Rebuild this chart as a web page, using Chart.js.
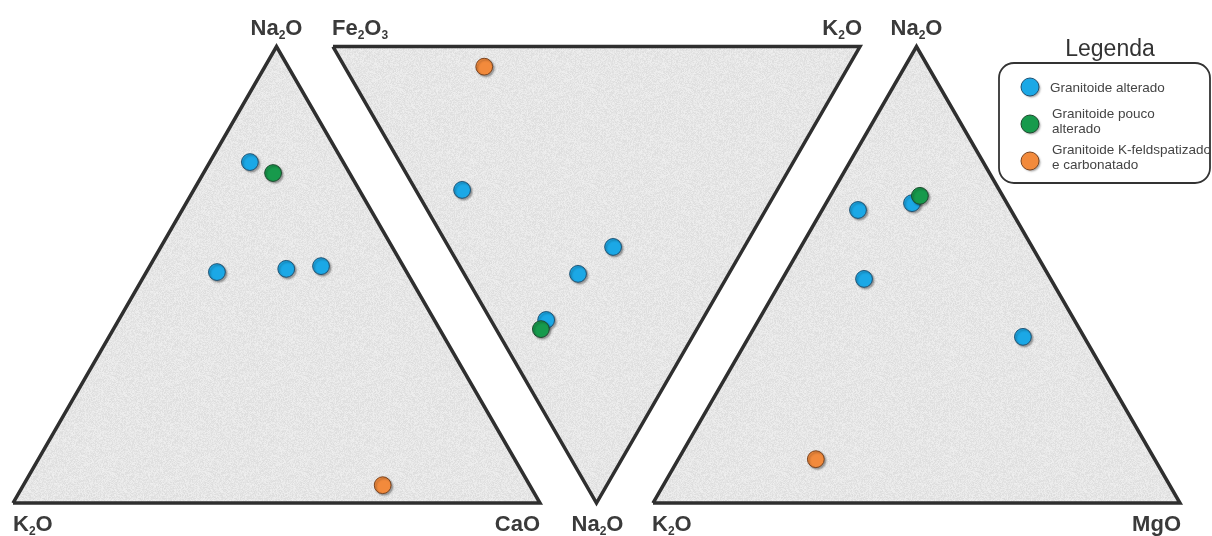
<!DOCTYPE html>
<html>
<head>
<meta charset="utf-8">
<title>Diagramas ternários</title>
<script src="https://cdn.jsdelivr.net/npm/chart.js@4.4.1/dist/chart.umd.min.js"></script>
<style>
  html, body { margin: 0; padding: 0; background: #fff; }
  #wrap { width: 1212px; height: 536px; position: relative; }
</style>
</head>
<body>
<div id="wrap"><canvas id="ternary"></canvas></div>
<script>
// ---- data (wt% normalised to 100 within each diagram) ----

const groups = ["Granitoide alterado", "Granitoide pouco alterado", "Granitoide K-feldspatizado e carbonatado"];
const groupLegendLines = [["Granitoide alterado"], ["Granitoide pouco", "alterado"], ["Granitoide K-feldspatizado", "e carbonatado"]];

// diagram 1: [Na2O, K2O, CaO]  (top, left, right)
const nkcLabels = ["Na2O", "K2O", "CaO"];
const nkcAlterado = [[74.7, 17.7, 7.6], [50.6, 36.0, 13.4], [51.3, 22.5, 26.2], [51.9, 15.6, 32.5]];
const nkcPouco = [[72.3, 14.5, 13.2]];
const nkcKfeld = [[3.9, 27.9, 68.2]];

// diagram 2 (inverted): [Fe2O3, K2O, Na2O]  (top-left, top-right, bottom)
const fknLabels = ["Fe2O3", "K2O", "Na2O"];
const fknAlterado = [[59.8, 8.8, 31.4], [24.9, 31.2, 43.9], [28.6, 21.6, 49.8], [29.6, 10.5, 59.9]];
const fknPouco = [[29.6, 8.5, 61.9]];
const fknKfeld = [[69.1, 26.5, 4.4]];

// diagram 3: [Na2O, K2O, MgO]  (top, left, right)
const nkmLabels = ["Na2O", "K2O", "MgO"];
const nkmAlterado = [[64.2, 29.0, 6.8], [65.7, 18.0, 16.3], [49.1, 35.4, 15.5], [36.4, 11.6, 52.0]];
const nkmPouco = [[67.3, 15.7, 17.0]];
const nkmKfeld = [[9.6, 64.3, 26.1]];

const groupColors = ["#1ba8e6", "#179a4c", "#f28a3c"];
const groupBorders = ["#1f5273", "#1d4a2e", "#7a4420"];

// ---- geometry (unit side triangles) ----
const H = Math.sqrt(3) / 2;
const OFF1 = 0, OFF2 = 0.6072, OFF3 = 1.2144;

function upright(off, c) {
  return { x: off + (c[2] + c[0] / 2) / 100, y: c[0] / 100 * H };
}
function inverted(off, c) {
  return { x: off + (c[1] + c[2] / 2) / 100, y: (1 - c[2] / 100) * H };
}

const tri1 = [upright(OFF1, [0, 100, 0]), upright(OFF1, [100, 0, 0]), upright(OFF1, [0, 0, 100])];
const tri2 = [inverted(OFF2, [100, 0, 0]), inverted(OFF2, [0, 100, 0]), inverted(OFF2, [0, 0, 100])];
const tri3 = [upright(OFF3, [0, 100, 0]), upright(OFF3, [100, 0, 0]), upright(OFF3, [0, 0, 100])];

// grainy paper fill for the triangles
function grainPattern() {
  const c = document.createElement("canvas");
  c.width = 96; c.height = 96;
  const g = c.getContext("2d");
  const img = g.createImageData(96, 96);
  for (let y = 0; y < 96; y++) {
    for (let x = 0; x < 96; x++) {
      let h = Math.imul(x, 374761393) + Math.imul(y, 668265263);
      h = Math.imul(h ^ (h >>> 13), 1274126177);
      h = (h ^ (h >>> 16)) >>> 0;
      const v = 229 + ((h & 255) / 255 - 0.45) * 18;
      const i = (y * 96 + x) * 4;
      img.data[i] = img.data[i + 1] = img.data[i + 2] = v;
      img.data[i + 3] = 255;
    }
  }
  g.putImageData(img, 0, 0);
  return g.createPattern(c, "repeat");
}
const grain = grainPattern();

function triangleSet(pts) {
  return {
    type: "line",
    data: [pts[0], pts[1], pts[2], pts[0]],
    borderColor: "#2f2f2f",
    borderWidth: 3.5,
    borderJoinStyle: "miter",
    backgroundColor: grain,
    fill: "shape",
    pointRadius: 0,
    tension: 0,
    order: 10,
    isFrame: true
  };
}

function sampleSet(g, pts, order) {
  return {
    type: "scatter",
    label: groups[g],
    data: pts,
    backgroundColor: groupColors[g],
    borderColor: groupBorders[g],
    borderWidth: 1,
    pointRadius: 8.4,
    order: order,
    isSample: true
  };
}

const alterado = [].concat(nkcAlterado.map(c => upright(OFF1, c)), fknAlterado.map(c => inverted(OFF2, c)), nkmAlterado.map(c => upright(OFF3, c)));
const pouco = [].concat(nkcPouco.map(c => upright(OFF1, c)), fknPouco.map(c => inverted(OFF2, c)), nkmPouco.map(c => upright(OFF3, c)));
const kfeld = [].concat(nkcKfeld.map(c => upright(OFF1, c)), fknKfeld.map(c => inverted(OFF2, c)), nkmKfeld.map(c => upright(OFF3, c)));

// ---- plugins ----
const FONT = '"Liberation Sans", Arial, Helvetica, sans-serif';

const pointShadow = {
  id: "pointShadow",
  beforeDatasetDraw(chart, args) {
    if (!chart.data.datasets[args.index].isSample) return;
    const ctx = chart.ctx;
    ctx.save();
    ctx.shadowColor = "rgba(0,0,0,0.35)";
    ctx.shadowOffsetX = 1.5;
    ctx.shadowOffsetY = 1.5;
    ctx.shadowBlur = 2;
  },
  afterDatasetDraw(chart, args) {
    if (!chart.data.datasets[args.index].isSample) return;
    chart.ctx.restore();
  }
};

// oxide formula with subscript digits
function formulaWidth(ctx, s) {
  let w = 0;
  for (const ch of s) {
    ctx.font = /\d/.test(ch) ? "bold 12px " + FONT : "bold 22px " + FONT;
    w += ctx.measureText(ch).width;
  }
  return w;
}
function drawFormula(ctx, s, x, y, align) {
  const w = formulaWidth(ctx, s);
  let cx = align === "center" ? x - w / 2 : align === "right" ? x - w : x;
  ctx.textAlign = "left";
  ctx.textBaseline = "alphabetic";
  ctx.fillStyle = "#3a3a3a";
  for (const ch of s) {
    const sub = /\d/.test(ch);
    ctx.font = sub ? "bold 12px " + FONT : "bold 22px " + FONT;
    ctx.fillText(ch, cx, sub ? y + 4 : y);
    cx += ctx.measureText(ch).width;
  }
}

const vertexLabels = {
  id: "vertexLabels",
  afterDatasetsDraw(chart) {
    const ctx = chart.ctx;
    const xs = chart.scales.x, ys = chart.scales.y;
    const px = p => ({ x: xs.getPixelForValue(p.x), y: ys.getPixelForValue(p.y) });
    ctx.save();
    // diagram 1
    let a = px(tri1[1]), b = px(tri1[0]), c = px(tri1[2]);
    drawFormula(ctx, nkcLabels[0], a.x, a.y - 12, "center");
    drawFormula(ctx, nkcLabels[1], b.x, b.y + 28, "left");
    drawFormula(ctx, nkcLabels[2], c.x, c.y + 28, "right");
    // diagram 2
    a = px(tri2[0]); b = px(tri2[1]); c = px(tri2[2]);
    drawFormula(ctx, fknLabels[0], a.x - 1, a.y - 12, "left");
    drawFormula(ctx, fknLabels[1], b.x + 2, b.y - 12, "right");
    drawFormula(ctx, fknLabels[2], c.x + 1, c.y + 28, "center");
    // diagram 3
    a = px(tri3[1]); b = px(tri3[0]); c = px(tri3[2]);
    drawFormula(ctx, nkmLabels[0], a.x, a.y - 12, "center");
    drawFormula(ctx, nkmLabels[1], b.x - 1, b.y + 28, "left");
    drawFormula(ctx, nkmLabels[2], c.x + 1, c.y + 28, "right");
    ctx.restore();
  }
};

const legendBox = {
  id: "legendBox",
  afterDraw(chart) {
    const ctx = chart.ctx;
    ctx.save();
    ctx.fillStyle = "#333";
    ctx.font = "23px " + FONT;
    ctx.textAlign = "center";
    ctx.fillText("Legenda", 1110, 56);

    ctx.beginPath();
    ctx.roundRect(999, 63, 211, 120, 15);
    ctx.fillStyle = "#fff";
    ctx.fill();
    ctx.lineWidth = 1.8;
    ctx.strokeStyle = "#333";
    ctx.stroke();

    const rows = [87, 124, 161];
    const firstBase = [92, 118, 154];
    groups.forEach((g, i) => {
      ctx.save();
      ctx.shadowColor = "rgba(0,0,0,0.35)";
      ctx.shadowOffsetX = 1.5;
      ctx.shadowOffsetY = 1.5;
      ctx.shadowBlur = 2;
      ctx.beginPath();
      ctx.arc(1030, rows[i], 9, 0, Math.PI * 2);
      ctx.fillStyle = groupColors[i];
      ctx.fill();
      ctx.restore();
      ctx.beginPath();
      ctx.arc(1030, rows[i], 9, 0, Math.PI * 2);
      ctx.lineWidth = 1;
      ctx.strokeStyle = groupBorders[i];
      ctx.stroke();

      ctx.fillStyle = "#444";
      ctx.font = "13.5px " + FONT;
      ctx.textAlign = "left";
      groupLegendLines[i].forEach((line, k) => {
        ctx.fillText(line, i === 0 ? 1050 : 1052, firstBase[i] + k * 14.5);
      });
    });
    ctx.restore();
  }
};

new Chart(document.getElementById("ternary"), {
  type: "scatter",
  data: {
    datasets: [
      triangleSet(tri1),
      triangleSet(tri2),
      triangleSet(tri3),
      sampleSet(0, alterado, 3),
      sampleSet(2, kfeld, 2),
      sampleSet(1, pouco, 1)
    ]
  },
  options: {
    responsive: true,
    maintainAspectRatio: false,
    animation: false,
    layout: { padding: 0, autoPadding: false },
    scales: {
      x: { type: "linear", display: false, min: -13 / 527, max: 1199 / 527 },
      y: { type: "linear", display: false, min: -33 / 527, max: 503 / 527 }
    },
    plugins: {
      legend: { display: false },
      tooltip: { enabled: false }
    }
  },
  plugins: [pointShadow, vertexLabels, legendBox]
});
</script>
</body>
</html>
